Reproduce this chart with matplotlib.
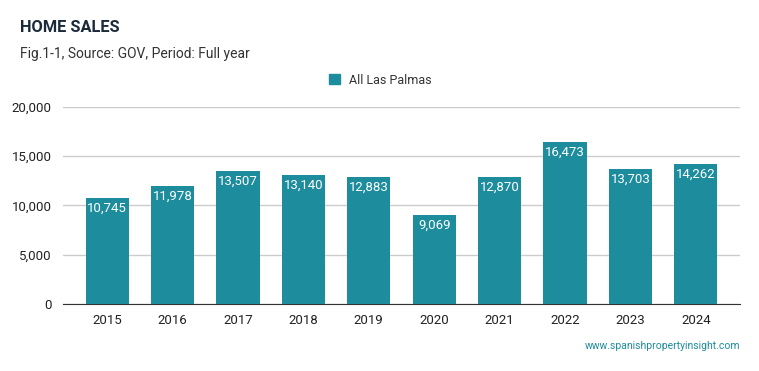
import matplotlib.pyplot as plt
from matplotlib.ticker import FuncFormatter

plt.rcParams["font.family"] = ["Roboto", "DejaVu Sans"]

# data
years = ["2015", "2016", "2017", "2018", "2019", "2020", "2021", "2022", "2023", "2024"]
sales = [10745, 11978, 13507, 13140, 12883, 9069, 12870, 16473, 13703, 14262]
series_name = "All Las Palmas"
y_ticks = [0, 5000, 10000, 15000, 20000]

BAR_COLOR = "#1d8c9c"
TITLE_COLOR = "#1b2a3a"

fig = plt.figure(figsize=(7.59, 3.71), dpi=100)
ax = fig.add_axes([63 / 759, 0.1806, 677 / 759, 0.531])

x = range(len(years))
bars = ax.bar(x, sales, width=0.66, color=BAR_COLOR, zorder=3)

# value labels inside the top of each bar
for b, v in zip(bars, sales):
    ax.text(
        b.get_x() + b.get_width() / 2,
        v - 400,
        f"{v:,}",
        ha="center",
        va="top",
        color="white",
        fontsize=9.5,
        zorder=4,
    )

ax.set_xlim(-0.675, len(years) - 1 + 0.675)
ax.set_ylim(0, 20000)
ax.set_yticks(y_ticks)
ax.yaxis.set_major_formatter(FuncFormatter(lambda v, p: f"{int(v):,}"))
ax.set_xticks(list(x))
ax.set_xticklabels(years)
ax.grid(axis="y", color="#cccccc", linewidth=1, zorder=0)
ax.spines[["right", "top", "left"]].set_visible(False)
ax.spines["bottom"].set_color("#333333")
ax.tick_params(axis="both", length=0, labelsize=9.5, colors="#222222")
ax.tick_params(axis="x", pad=7)
ax.tick_params(axis="y", pad=8)

# titles
fig.text(20 / 759, 1 - 28 / 371, "HOME SALES", fontsize=11.8, fontweight="bold",
         color=TITLE_COLOR, va="center", ha="left")
fig.text(20 / 759, 1 - 54 / 371, "Fig.1-1, Source: GOV, Period: Full year",
         fontsize=10, color="#333333", va="center", ha="left")

# legend
handle = plt.Rectangle((0, 0), 1, 1, color=BAR_COLOR)
fig.legend([handle], [series_name], loc="center", bbox_to_anchor=(380 / 759, 1 - 80 / 371),
           frameon=False, fontsize=9, handlelength=0.9, handleheight=0.9,
           handletextpad=0.7, labelcolor="#333333")

# watermark
fig.text(740 / 759, 1 - 346 / 371, "www.spanishpropertyinsight.com", fontsize=7.5,
         color=BAR_COLOR, ha="right", va="center")

fig.savefig("out.png", dpi=100)
